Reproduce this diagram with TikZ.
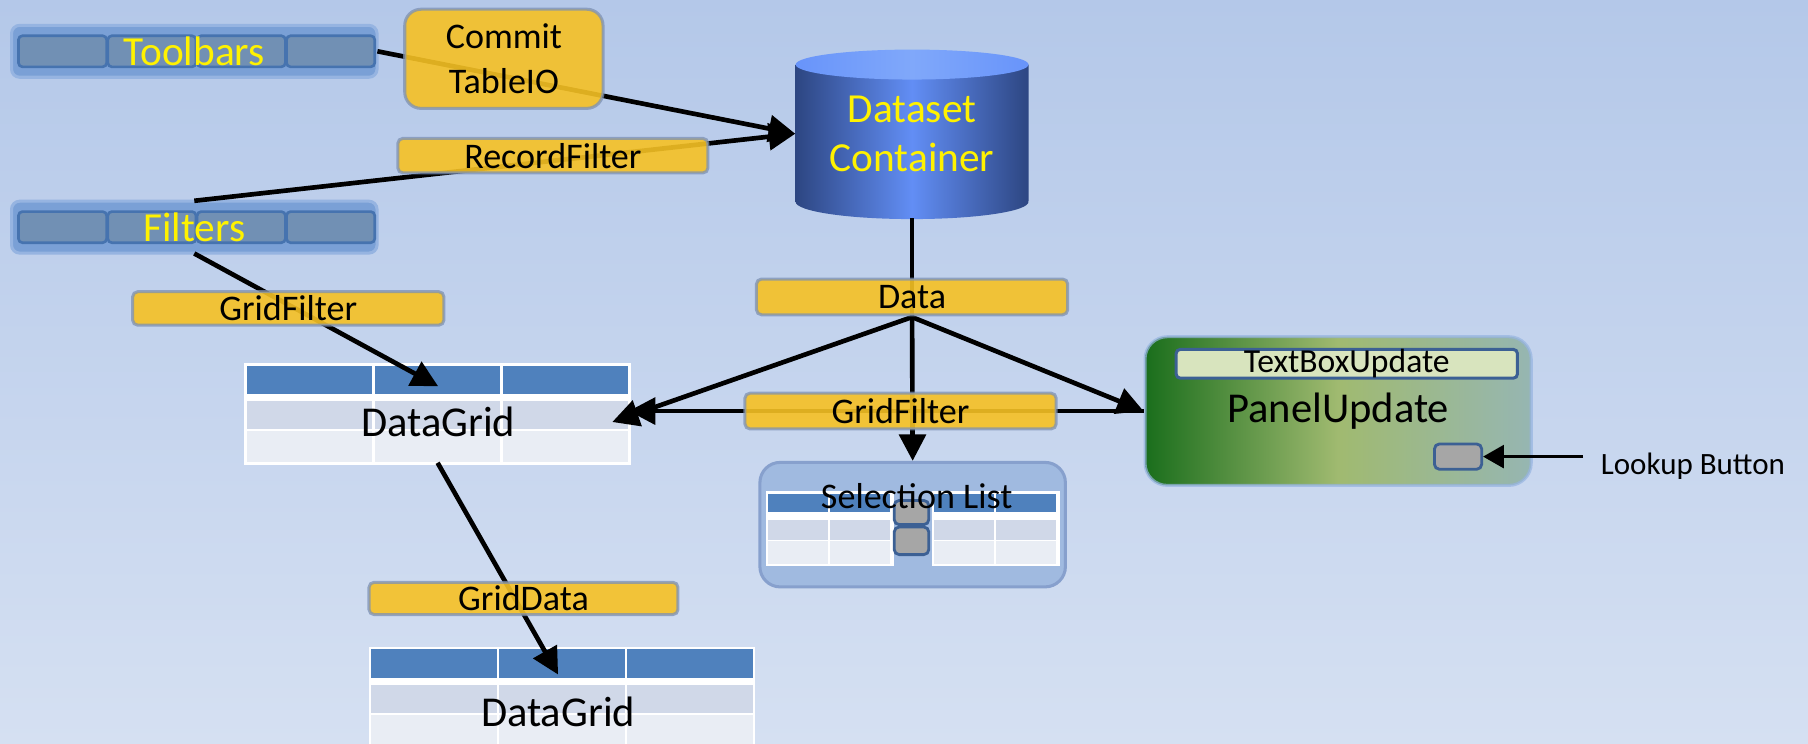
\documentclass[tikz,border=0pt]{standalone}
\usepackage{fontspec}
\setmainfont{Carlito}
\usetikzlibrary{arrows.meta}
\definecolor{bgtop}{RGB}{180,200,233}
\definecolor{bgbot}{RGB}{213,224,242}
\definecolor{tagyellow}{RGB}{246,193,36}
\definecolor{tagline}{RGB}{125,145,180}
\definecolor{barfill}{RGB}{122,160,214}
\definecolor{barline}{RGB}{150,180,225}
\definecolor{segfill}{RGB}{113,144,180}
\definecolor{segline}{RGB}{70,115,175}
\definecolor{hdr}{RGB}{79,129,189}
\definecolor{rowa}{RGB}{208,216,232}
\definecolor{rowb}{RGB}{233,237,244}
\definecolor{cyledge}{RGB}{45,70,130}
\definecolor{cylmid}{RGB}{98,142,245}
\definecolor{cyltop}{RGB}{104,148,250}
\definecolor{cyltopmid}{RGB}{128,168,250}
\definecolor{selfill}{RGB}{160,186,224}
\definecolor{selline}{RGB}{135,160,205}
\definecolor{pgreen}{RGB}{26,110,28}
\definecolor{polive}{RGB}{160,186,112}
\definecolor{pgray}{RGB}{150,182,178}
\definecolor{tbfill}{RGB}{216,228,190}
\definecolor{btnline}{RGB}{60,96,148}
\definecolor{btnfill}{RGB}{166,166,166}
\newcommand\fzLabel{\fontsize{17.8}{22}\selectfont}
\newcommand\fzBar{\fontsize{20.4}{24.5}\selectfont}
\newcommand\fzGrid{\fontsize{21}{25}\selectfont}
\newcommand\fzTbox{\fontsize{16.6}{20}\selectfont}
\newcommand\fzSmall{\fontsize{15.3}{18}\selectfont}
\begin{document}
\begin{tikzpicture}[x=0.02cm, y=-0.02cm,
    conn/.style={line width=2.3pt, -{Triangle[length=0.46cm,width=0.46cm]}},
    plain/.style={line width=2.3pt},
    tag/.style={draw=tagline, draw opacity=0.75, line width=1.5pt, fill=tagyellow, fill opacity=0.9, text opacity=1, rounded corners=2.5pt, inner sep=0pt, font=\fzLabel},
    bar/.style={draw=barline, line width=1.5pt, fill=barfill, rounded corners=4pt},
    seg/.style={draw=segline, line width=1.3pt, fill=segfill, rounded corners=2pt},
    barname/.style={text=yellow, font=\fzBar, inner sep=0pt, minimum width=6.34cm, minimum height=0.9cm},
    btn/.style={draw=btnline, line width=1.4pt, fill=btnfill, rounded corners=2.5pt, inner sep=0pt}]
    \useasboundingbox (0,0) rectangle (1568,645);
    \shade[top color=bgtop, bottom color=bgbot] (0,0) rectangle (1568,645);
    % toolbars and filters
    \foreach \cy/\nm/\txt in {44.5/toolbars/Toolbars, 197/filters/Filters} {
        \draw[bar] (10,\cy-22.5) rectangle (327,\cy+22.5);
        \foreach \sx in {16,93.5,171,248.5}
            \draw[seg] (\sx,\cy-13.5) rectangle ++(76.5,27);
        \node[barname] (\nm) at (168.5,\cy) {\txt};
    }
    % dataset container
    \shade[left color=cyledge, right color=cyledge, middle color=cylmid] (690,56) -- (690,175)
        arc[start angle=180, end angle=360, x radius=2.02cm, y radius=0.3cm] -- (892,56) -- cycle;
    \shade[left color=cyltop, right color=cyltop, middle color=cyltopmid] (791,56) ellipse [x radius=2.02cm, y radius=0.26cm];
    \node[font=\fzBar, text=yellow, align=center, minimum width=4.04cm, minimum height=2.92cm] (dataset) at (791,116) {Dataset\\Container};
    % grids
    \foreach \tx/\ty in {214/317, 322/563} {
        \begin{scope}[shift={(\tx,\ty)}]
            \fill[white] (-2,-2) rectangle (333,86);
            \foreach \c in {0,1,2} {
                \fill[hdr] (\c*111,0) rectangle ++(109,25);
                \fill[rowa] (\c*111,31) rectangle ++(109,24);
                \fill[rowb] (\c*111,57) rectangle ++(109,27);
            }
        \end{scope}
    }
    \node[minimum width=6.62cm, minimum height=1.68cm] (grid1) at (379.5,359) {};
    \node[font=\fzGrid] (grid1txt) at (380,366) {DataGrid};
    \node[minimum width=6.62cm, minimum height=1.68cm] (grid2) at (487.5,604) {};
    \node[font=\fzGrid] (grid2txt) at (484,617) {DataGrid};
    % selection list
    \node[draw=selline, line width=1.5pt, fill=selfill, rounded corners=10pt, minimum width=5.3cm, minimum height=2.16cm] (sel) at (791.5,455) {};
    \foreach \tx in {666,810} {
        \begin{scope}[shift={(\tx,428)}]
            \fill[white] (-2,-2) rectangle (109,63);
            \foreach \c in {0,1} {
                \fill[hdr] (\c*54,0) rectangle ++(52,16);
                \fill[rowa] (\c*54,23) rectangle ++(52,17);
                \fill[rowb] (\c*54,41) rectangle ++(52,20);
            }
        \end{scope}
    }
    \node[btn, minimum width=0.6cm, minimum height=0.42cm] (selup) at (790.5,444.5) {};
    \node[btn, minimum width=0.6cm, minimum height=0.48cm] (seldn) at (790.5,469) {};
    \node[font=\fzLabel] (seltxt) at (795,430) {Selection List};
    % update panel
    \node[rounded corners=11pt, draw=barline, draw opacity=0.7, line width=1.5pt, left color=pgreen, right color=pgray, middle color=polive,
        minimum width=6.7cm, minimum height=2.58cm, font=\fzGrid] (panel) at (1160.5,356.5) {PanelUpdate};
    \node[draw=btnline, line width=1.5pt, fill=tbfill, rounded corners=2pt, inner sep=0pt, minimum width=5.92cm, minimum height=0.46cm, font=\fzTbox] (tbox) at (1168,315.5) {TextBoxUpdate};
    \node[btn, minimum width=0.82cm, minimum height=0.44cm] (lkbtn) at (1264.5,396) {};
    \node[anchor=west, inner xsep=0.3cm, inner ysep=0pt, font=\fzSmall] (lklbl) at (1373,404) {Lookup Button};
    \draw[line width=1.2pt, -{Triangle[length=0.36cm,width=0.4cm]}] (lklbl.west |- lkbtn.east) -- (lkbtn.east);
    % connectors
    \coordinate (branch) at (791,275);
    \coordinate (g1top) at (380,335);
    \coordinate (g1tip) at (531,366);
    \coordinate (g2tip) at (484,585);
    \draw[conn] (toolbars.east) -- (dataset.west);
    \draw[conn] (filters.north) -- (dataset.west);
    \draw[conn] (filters.south) -- (g1top);
    \draw[plain] (dataset.south) -- (branch);
    \draw[conn] (branch) -- (g1tip);
    \draw[conn] (branch) -- (panel.west);
    \draw[conn] (branch) -- (sel.north);
    \draw[conn] (panel.west) -- (panel.west -| grid1.east);
    \draw[conn] (grid1.south) -- (g2tip);
    % labels
    \node[tag, rounded corners=8pt, align=center, minimum width=3.44cm, minimum height=1.72cm] (commit) at (437,51) {Commit\\TableIO};
    \node[tag, minimum width=5.38cm, minimum height=0.6cm] (recflt) at (479.5,135) {RecordFilter};
    \node[tag, minimum width=5.4cm, minimum height=0.58cm] (gfltA) at (250,267.5) {GridFilter};
    \node[tag, minimum width=5.4cm, minimum height=0.62cm] (data) at (791,257.5) {Data};
    \node[tag, minimum width=5.4cm, minimum height=0.62cm] (gfltB) at (781,356.5) {GridFilter};
    \node[tag, minimum width=5.36cm, minimum height=0.56cm] (gdata) at (454,519) {GridData};
\end{tikzpicture}
\end{document}
